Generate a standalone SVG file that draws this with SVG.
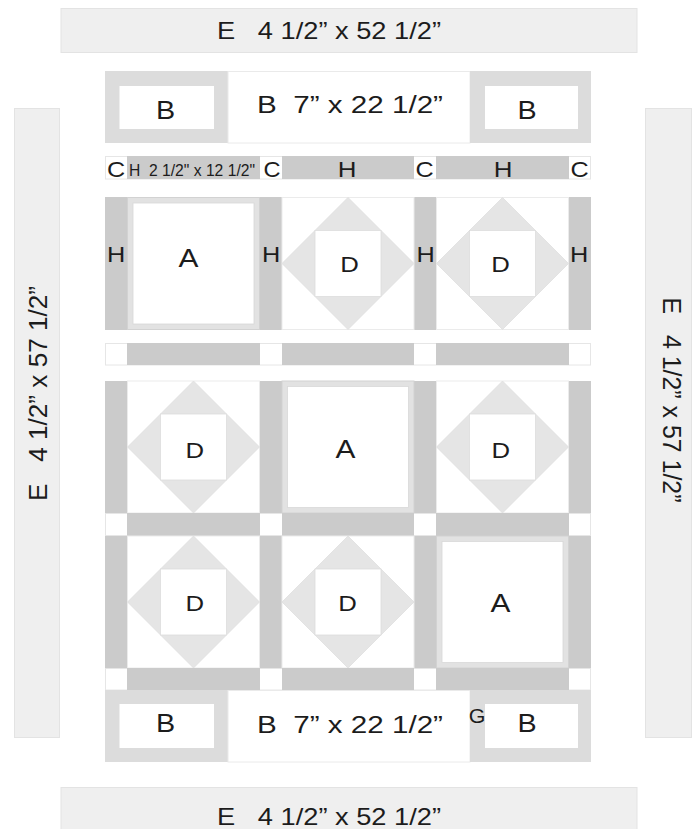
<svg xmlns="http://www.w3.org/2000/svg" width="693" height="829" viewBox="0 0 693 829">
<style>
text{font-family:"Liberation Sans",Arial,Helvetica,sans-serif;fill:#1c1c1c}
.e{fill:#efefef;stroke:#e3e3e3;stroke-width:1}
.h{fill:#cbcbcb}
.c{fill:#fff;stroke:#e6e6e6;stroke-width:1}
.bf{fill:#dcdcdc}
.w{fill:#fff}
.bw{fill:#fff;stroke:#eaeaea;stroke-width:1}
.blk{fill:#fff;stroke:#ebebeb;stroke-width:1}
.dia{fill:#e5e5e5;stroke:#dedede;stroke-width:0.8}
.af{fill:#e2e2e2;stroke:#d2d2d2;stroke-width:1}
.aw{fill:#fff;stroke:#d8d8d8;stroke-width:0.8}
.m{text-anchor:middle}
.a{font-size:26px}
.b{font-size:25px}
.d{font-size:23px}
.hh{font-size:22px}
.cc{font-size:22.5px}
</style>
<defs>
<g id="dblock">
<rect class="blk" x="-66" y="-66" width="132" height="132"/>
<polygon class="dia" points="0,-66 66,0 0,66 -66,0"/>
<rect class="w" x="-33" y="-33" width="66" height="66" stroke="#dcdcdc" stroke-width="0.8"/>
</g>
<g id="ablock">
<rect class="af" x="-66" y="-66" width="132" height="132"/>
<rect class="aw" x="-60.5" y="-60.5" width="121" height="121"/>
</g>
</defs>
<rect width="693" height="829" fill="#fff"/>

<!-- Borders E -->
<g id="E-top"><rect class="e" x="61" y="8.5" width="576" height="44"/>
<text xml:space="preserve" x="217" y="39" font-size="24" textLength="224" lengthAdjust="spacingAndGlyphs">E   4 1/2” x 52 1/2”</text></g>
<g id="E-bottom"><rect class="e" x="61" y="787.5" width="576" height="44"/>
<text xml:space="preserve" x="217" y="825" font-size="24" textLength="224" lengthAdjust="spacingAndGlyphs">E   4 1/2” x 52 1/2”</text></g>
<g id="E-left"><rect class="e" x="14.5" y="108.5" width="45" height="629"/>
<text xml:space="preserve" transform="translate(46.5,393.5) rotate(-90)" x="0" y="0" font-size="25.5" text-anchor="middle" textLength="215" lengthAdjust="spacingAndGlyphs">E   4 1/2” x 57 1/2”</text></g>
<g id="E-right"><rect class="e" x="645.5" y="108.5" width="46" height="629"/>
<text xml:space="preserve" transform="translate(662.5,400) rotate(90)" x="0" y="0" font-size="25.5" text-anchor="middle" textLength="205" lengthAdjust="spacingAndGlyphs">E   4 1/2” x 57 1/2”</text></g>

<!-- Top B row -->
<g id="B-top-left"><rect class="bf" x="105" y="71" width="123" height="72"/><rect class="w" x="119.5" y="86" width="94.5" height="43"/>
<text class="b m" transform="translate(165.5,118.5) scale(1.15,1)">B</text></g>
<g id="B-top-mid"><rect class="bw" x="228" y="71.5" width="242" height="71.5"/>
<text xml:space="preserve" x="257" y="112.5" font-size="23.5" textLength="186" lengthAdjust="spacingAndGlyphs">B  7” x 22 1/2”</text></g>
<g id="B-top-right"><rect class="bf" x="470" y="71" width="121" height="72"/><rect class="w" x="485" y="86" width="93" height="43"/>
<text class="b m" transform="translate(527,118.5) scale(1.15,1)">B</text></g>

<!-- Top C/H row -->
<g id="row-CH-top">
<rect class="c" x="105.5" y="156.5" width="485" height="22.5"/>
<rect class="h" x="127" y="156" width="133" height="23"/>
<rect class="h" x="282" y="156" width="132" height="23"/>
<rect class="h" x="436" y="156" width="133" height="23"/>
<text class="cc m" transform="translate(116,176.7) scale(1.12,1)">C</text>
<text xml:space="preserve" x="129" y="176" font-size="16.5" textLength="126" lengthAdjust="spacingAndGlyphs">H  2 1/2" x 12 1/2"</text>
<text class="cc m" transform="translate(272,176.7) scale(1.05,1)">C</text>
<text class="cc m" transform="translate(347,176.5) scale(1.15,1)">H</text>
<text class="cc m" transform="translate(424.5,176.7) scale(1.12,1)">C</text>
<text class="cc m" transform="translate(503,176.5) scale(1.15,1)">H</text>
<text class="cc m" transform="translate(579.5,176.7) scale(1.12,1)">C</text>
</g>

<!-- Block row 1 -->
<g id="row1-sashes">
<rect class="h" x="105" y="197" width="22" height="133"/>
<rect class="h" x="260" y="197" width="22" height="133"/>
<rect class="h" x="414" y="197" width="22" height="133"/>
<rect class="h" x="569" y="197" width="22" height="133"/>
<text class="hh m" transform="translate(116,262.3) scale(1.15,1)">H</text>
<text class="hh m" transform="translate(271,262.3) scale(1.15,1)">H</text>
<text class="hh m" transform="translate(425.5,262.3) scale(1.15,1)">H</text>
<text class="hh m" transform="translate(579,262.3) scale(1.15,1)">H</text>
</g>
<g id="r1-A"><use href="#ablock" x="193.5" y="263.5"/><text class="a m" transform="translate(188.5,266.7) scale(1.15,1)">A</text></g>
<g id="r1-D1"><use href="#dblock" x="348" y="263.5"/><text class="d m" transform="translate(349.5,271.7) scale(1.12,1)">D</text></g>
<g id="r1-D2"><use href="#dblock" x="502.5" y="263.5"/><text class="d m" transform="translate(500.5,271.7) scale(1.12,1)">D</text></g>

<!-- Sash row 2 -->
<g id="sash-row-2">
<rect class="c" x="105.5" y="343.5" width="485" height="21.5"/>
<rect class="h" x="127" y="343" width="133" height="22"/>
<rect class="h" x="282" y="343" width="132" height="22"/>
<rect class="h" x="436" y="343" width="133" height="22"/>
</g>

<!-- Block row 2 -->
<g id="row2-sashes">
<rect class="h" x="105" y="381" width="22" height="132"/>
<rect class="h" x="260" y="381" width="22" height="132"/>
<rect class="h" x="414" y="381" width="22" height="132"/>
<rect class="h" x="569" y="381" width="22" height="132"/>
</g>
<g id="r2-D1"><use href="#dblock" x="193.5" y="447"/><text class="d m" transform="translate(194.7,458.3) scale(1.12,1)">D</text></g>
<g id="r2-A"><use href="#ablock" x="348" y="447"/><text class="a m" transform="translate(345.5,458.3) scale(1.15,1)">A</text></g>
<g id="r2-D2"><use href="#dblock" x="502.5" y="447"/><text class="d m" transform="translate(500.8,458.3) scale(1.12,1)">D</text></g>

<!-- Sash row 3 -->
<g id="sash-row-3">
<rect class="c" x="105.5" y="513.5" width="485" height="22"/>
<rect class="h" x="127" y="513" width="133" height="23"/>
<rect class="h" x="282" y="513" width="132" height="23"/>
<rect class="h" x="436" y="513" width="133" height="23"/>
</g>

<!-- Block row 3 -->
<g id="row3-sashes">
<rect class="h" x="105" y="536" width="22" height="132"/>
<rect class="h" x="260" y="536" width="22" height="132"/>
<rect class="h" x="414" y="536" width="22" height="132"/>
<rect class="h" x="569" y="536" width="22" height="132"/>
</g>
<g id="r3-D1"><use href="#dblock" x="193.5" y="602"/><text class="d m" transform="translate(194.7,610.7) scale(1.12,1)">D</text></g>
<g id="r3-D2"><use href="#dblock" x="348" y="602"/><text class="d m" transform="translate(347.5,610.7) scale(1.12,1)">D</text></g>
<g id="r3-A"><use href="#ablock" x="502.5" y="602"/><text class="a m" transform="translate(500.5,611.7) scale(1.15,1)">A</text></g>

<!-- Sash row 4 -->
<g id="sash-row-4">
<rect class="c" x="105.5" y="668.5" width="485" height="21.5"/>
<rect class="h" x="127" y="668" width="133" height="22"/>
<rect class="h" x="282" y="668" width="132" height="22"/>
<rect class="h" x="436" y="668" width="133" height="22"/>
</g>

<!-- Bottom B row -->
<g id="B-bottom-left"><rect class="bf" x="105" y="690" width="123" height="72"/><rect class="w" x="119.5" y="704" width="94.5" height="44"/>
<text class="b m" transform="translate(165.5,731.5) scale(1.15,1)">B</text></g>
<g id="B-bottom-mid"><rect class="bw" x="228" y="690.5" width="242" height="71.5"/>
<text xml:space="preserve" x="257" y="733" font-size="23.5" textLength="186" lengthAdjust="spacingAndGlyphs">B  7” x 22 1/2”</text></g>
<g id="B-bottom-right"><rect class="bf" x="470" y="690" width="121" height="72"/><rect class="w" x="485" y="704" width="93" height="44"/>
<text class="b m" transform="translate(527,731.5) scale(1.15,1)">B</text>
<text font-size="19.5" class="m" transform="translate(477,723) scale(1.1,1)">G</text></g>
</svg>
